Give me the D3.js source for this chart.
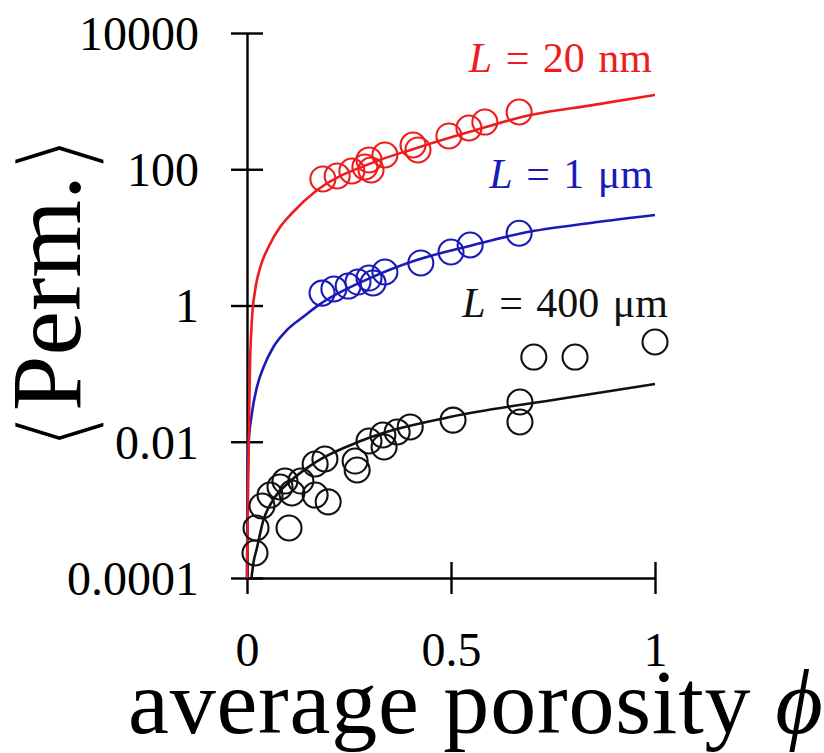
<!DOCTYPE html>
<html>
<head>
<meta charset="utf-8">
<script src="https://cdn.jsdelivr.net/npm/d3@7"></script>
<style>
  html, body { margin: 0; padding: 0; background: #fff; }
  svg { display: block; }
</style>
</head>
<body>
<svg id="chart" width="824" height="753"></svg>
<script>
// ---- axis ticks ----
const phiTicks = [0, 0.5, 1];
const phiTickLabels = ["0", "0.5", "1"];
const permTicks = [1e-4, 1e-2, 1, 1e2, 1e4];
const permTickLabels = ["0.0001", "0.01", "1", "100", "10000"];

// ---- measured permeability, L = 20 nm ----
const nm20Phi  = [0.186, 0.221, 0.257, 0.289, 0.299, 0.304, 0.338, 0.407, 0.419, 0.495, 0.544, 0.583, 0.667];
const nm20Perm = [72, 79.6, 94.2, 108, 137, 97.5, 162, 227, 192, 308, 403, 493, 692];

// ---- measured permeability, L = 1 um ----
const um1Phi  = [0.184, 0.213, 0.248, 0.272, 0.299, 0.309, 0.338, 0.426, 0.500, 0.547, 0.667];
const um1Perm = [1.52, 1.75, 1.93, 2.21, 2.53, 2.14, 3.10, 4.21, 6.10, 7.73, 11.5];

// ---- measured permeability, L = 400 um ----
const um400Phi  = [0.0196, 0.0221, 0.103, 0.0368, 0.0564, 0.0809, 0.0931, 0.110, 0.132, 0.167,
                   0.191, 0.167, 0.199, 0.265, 0.270, 0.299, 0.333, 0.336, 0.368, 0.400,
                   0.505, 0.669, 0.669, 0.703, 0.804, 1.0];
const um400Perm = [0.000233, 0.000542, 0.000542, 0.00114, 0.00165, 0.00217, 0.00265, 0.00177, 0.00265, 0.00471,
                   0.00558, 0.00165, 0.00131, 0.00521, 0.00385, 0.01026, 0.01256, 0.00838, 0.0139, 0.0165,
                   0.0208, 0.0383, 0.0195, 0.175, 0.175, 0.291];

// ---- model curves ----
const fit20nmPhi  = [0, 0.002, 0.0045, 0.0066, 0.012, 0.020, 0.033, 0.053, 0.082, 0.11, 0.172, 0.3, 0.416, 0.55, 0.676, 0.85, 1.0];
const fit20nmPerm = [0.0001, 0.001, 0.01, 0.081, 0.61, 1.69, 3.71, 7.3, 14.4, 22.6, 49.5, 120, 205, 360, 590, 880, 1230];

const fit1umPhi  = [0, 0.001, 0.003, 0.012, 0.0245, 0.041, 0.065, 0.098, 0.139, 0.176, 0.3, 0.416, 0.55, 0.676, 0.85, 1.0];
const fit1umPerm = [0.0001, 0.001, 0.008, 0.026, 0.064, 0.126, 0.248, 0.437, 0.69, 1.02, 2.5, 4.65, 7.6, 11.6, 16.5, 21.3];

const fit400umPhi  = [0.011, 0.016, 0.024, 0.04, 0.064, 0.105, 0.163, 0.285, 0.5, 0.75, 1.0];
const fit400umPerm = [0.0001, 0.00017, 0.00027, 0.0007, 0.0014, 0.0026, 0.0048, 0.0106, 0.0233, 0.041, 0.0705];

const RED = "#ee1c1c", BLUE = "#1a1ab8", BLACK = "#111";

const svg = d3.select("#chart");
const x = d3.scaleLinear().domain([0, 1]).range([247, 655]);
const y = d3.scaleLog().domain([1e-4, 1e4]).range([578, 33]);

const serif = "'Liberation Serif', 'Times New Roman', serif";
const zip = (a, b) => a.map((v, i) => [v, b[i]]);

// ---- y-axis title (drawn first so the tick labels sit above it) ----
const bracketFont = "'DejaVu Sans', sans-serif";
const yt = svg.append("text")
  .attr("transform", "translate(80,293) rotate(-90)")
  .attr("text-anchor", "middle")
  .attr("font-family", serif)
  .attr("font-size", 100)
  .attr("fill", "#000");
// thin angle brackets: a white outline trims the heavy strokes
const bracket = (s) => yt.append("tspan")
  .attr("font-family", bracketFont)
  .attr("font-size", 104)
  .attr("stroke", "#fff")
  .attr("stroke-width", 4.5)
  .text(s);
bracket("⟨").attr("dy", 12);
yt.append("tspan").attr("dy", -12).text("Perm.");
bracket("⟩").attr("dy", 12);

// ---- axes ----
svg.append("g")
  .attr("transform", "translate(247,0)")
  .call(d3.axisLeft(y).tickValues(permTicks).tickFormat((d, i) => permTickLabels[i]).tickSizeOuter(0))
  .call(g => {
    g.attr("font-family", serif).attr("font-size", 48);
    g.select(".domain").attr("stroke", "#000").attr("stroke-width", 2.4);
    g.selectAll(".tick line").attr("x1", -16).attr("x2", 16).attr("stroke", "#000").attr("stroke-width", 2.4);
    g.selectAll(".tick text").attr("x", -48).attr("dy", "0.34em").attr("fill", "#000");
  });

svg.append("g")
  .attr("transform", "translate(0,578)")
  .call(d3.axisBottom(x).tickValues(phiTicks).tickFormat((d, i) => phiTickLabels[i]).tickSizeOuter(0))
  .call(g => {
    g.attr("font-family", serif).attr("font-size", 48);
    g.select(".domain").attr("stroke", "#000").attr("stroke-width", 2.4);
    g.selectAll(".tick line").attr("y1", -16).attr("y2", 16).attr("stroke", "#000").attr("stroke-width", 2.4);
    g.selectAll(".tick text").attr("y", 88).attr("dy", 0).attr("fill", "#000");
  });

// ---- model curves ----
const line = d3.line().x(d => x(d[0])).y(d => y(d[1])).curve(d3.curveMonotoneX);
const curves = [
  { phi: fit400umPhi, perm: fit400umPerm, color: BLACK },
  { phi: fit1umPhi,   perm: fit1umPerm,   color: BLUE },
  { phi: fit20nmPhi,  perm: fit20nmPerm,  color: RED }
];
svg.append("g").selectAll("path").data(curves).join("path")
  .attr("d", c => line(zip(c.phi, c.perm)))
  .attr("fill", "none")
  .attr("stroke", c => c.color)
  .attr("stroke-width", 2.6);

// ---- measured points ----
const series = [
  { phi: um400Phi, perm: um400Perm, color: BLACK },
  { phi: um1Phi,   perm: um1Perm,   color: BLUE },
  { phi: nm20Phi,  perm: nm20Perm,  color: RED }
];
series.forEach(s => {
  svg.append("g").selectAll("circle").data(zip(s.phi, s.perm)).join("circle")
    .attr("cx", d => x(d[0]))
    .attr("cy", d => y(d[1]))
    .attr("r", 12.5)
    .attr("fill", "none")
    .attr("stroke", s.color)
    .attr("stroke-width", 2.1);
});

// ---- curve labels ----
const labels = [
  { unit: "20 nm",  color: RED,   x: 652, y: 72 },
  { unit: "1 μm",   color: BLUE,  x: 653, y: 188 },
  { unit: "400 μm", color: BLACK, x: 668, y: 317 }
];
labels.forEach(l => {
  const t = svg.append("text")
    .attr("x", l.x).attr("y", l.y)
    .attr("text-anchor", "end")
    .attr("font-family", serif)
    .attr("font-size", 42)
    .attr("word-spacing", 3)
    .attr("fill", l.color);
  t.append("tspan").attr("font-style", "italic").text("L");
  t.append("tspan").text(" = " + l.unit);
});

// ---- x-axis title ----
const xt = svg.append("text")
  .attr("x", 128).attr("y", 733)
  .attr("font-family", serif)
  .attr("font-size", 92)
  .attr("letter-spacing", 0.8)
  .attr("fill", "#000");
xt.append("tspan").text("average porosity ");
xt.append("tspan").attr("font-style", "italic").text("ϕ");
</script>
</body>
</html>
